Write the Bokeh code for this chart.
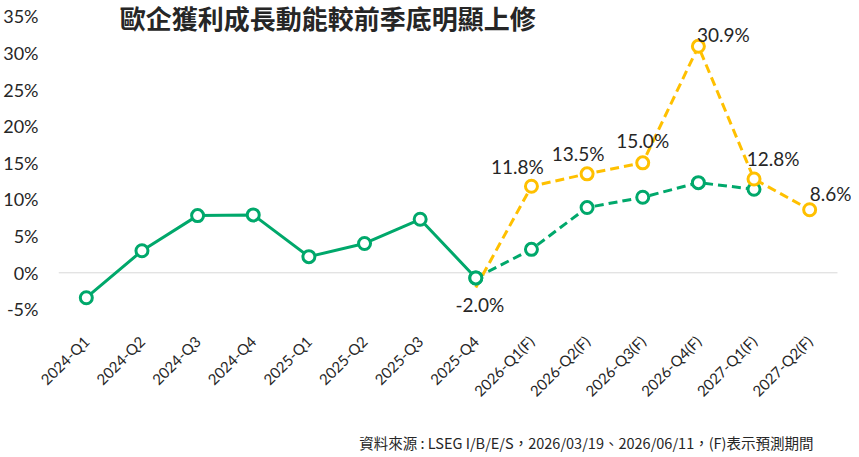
import math
from bokeh.plotting import figure
from bokeh.models import ColumnDataSource, FixedTicker, Label, LabelSet, Range1d, Title
from bokeh.core.properties import value
from bokeh.embed import file_html
from bokeh.resources import INLINE

# ---- data ----
quarters = ["2024-Q1", "2024-Q2", "2024-Q3", "2024-Q4", "2025-Q1", "2025-Q2", "2025-Q3",
            "2025-Q4", "2026-Q1(F)", "2026-Q2(F)", "2026-Q3(F)", "2026-Q4(F)", "2027-Q1(F)",
            "2027-Q2(F)"]
actual_q = quarters[0:8]
actual_v = [-3.4, 3.0, 7.8, 7.9, 2.2, 4.0, 7.3, -0.7]
prev_q = quarters[7:13]
prev_v = [-0.7, 3.2, 8.9, 10.3, 12.3, 11.4]
new_q = quarters[7:14]
new_v = [-2.0, 11.8, 13.5, 15.0, 30.9, 12.8, 8.6]
y_ticks = [-5, 0, 5, 10, 15, 20, 25, 30, 35]

title_text = "歐企獲利成長動能較前季底明顯上修"
source_text = "資料來源 : LSEG I/B/E/S，2026/03/19、2026/06/11，(F)表示預測期間"

GREEN = "#00A86B"
YELLOW = "#FFC000"
TXT = "#262626"
NUM_FONT = "Lato"
CJK_FONT = "Noto Sans CJK TC"

idx = {q: i for i, q in enumerate(quarters)}
n = len(quarters)

# frame extends slightly below -5% so the "-2.0%" label is not clipped
p = figure(frame_width=793, frame_height=317, output_backend="svg", toolbar_location=None,
           x_range=Range1d(-0.5, 13.752), y_range=Range1d(-6.1, 37.15),
           min_border_left=50, min_border_right=0, min_border_top=0, min_border_bottom=0)
p.outline_line_color = None
p.xgrid.visible = False
p.ygrid.visible = False
p.background_fill_color = "white"
p.border_fill_color = "white"

# axes
p.yaxis.ticker = FixedTicker(ticks=y_ticks)
p.yaxis.major_label_overrides = {t: f"{t}%" for t in y_ticks}
p.yaxis.axis_line_color = None
p.yaxis.major_tick_line_color = None
p.yaxis.minor_tick_line_color = None
p.yaxis.major_label_text_font = NUM_FONT
p.yaxis.major_label_text_font_size = "18px"
p.yaxis.major_label_text_color = TXT
p.yaxis.major_label_standoff = 14

p.xaxis.ticker = FixedTicker(ticks=list(range(n)))
p.xaxis.major_label_overrides = {i: q for i, q in enumerate(quarters)}
p.xaxis.major_label_orientation = math.pi / 4
p.xaxis.axis_line_color = None
p.xaxis.major_tick_line_color = None
p.xaxis.minor_tick_line_color = None
p.xaxis.major_label_text_font = NUM_FONT
p.xaxis.major_label_text_font_size = "15px"
p.xaxis.major_label_text_color = TXT
p.xaxis.major_label_standoff = 15

# zero line across the category span
p.segment(x0=[-0.5], x1=[n - 0.5], y0=[0], y1=[0], line_color="#D9D9D9", line_width=1)

# series
src_a = ColumnDataSource(dict(x=[idx[q] for q in actual_q], y=actual_v))
src_p = ColumnDataSource(dict(x=[idx[q] for q in prev_q], y=prev_v))
src_n = ColumnDataSource(dict(x=[idx[q] for q in new_q], y=new_v,
                              lbl=[f"{v:.1f}%" for v in new_v]))
src_nm = ColumnDataSource(dict(x=[idx[q] for q in new_q[1:]], y=new_v[1:]))

p.line("x", "y", source=src_p, line_color=GREEN, line_width=3, line_dash="9 5")
p.line("x", "y", source=src_a, line_color=GREEN, line_width=3)
p.line("x", "y", source=src_n, line_color=YELLOW, line_width=3, line_dash="9 5")
p.scatter("x", "y", source=src_a, size=12, fill_color="white", line_color=GREEN, line_width=3)
p.scatter("x", "y", source=src_p, size=12, fill_color="white", line_color=GREEN, line_width=3)
p.scatter("x", "y", source=src_nm, size=12, fill_color="white", line_color=YELLOW, line_width=3)

# data labels (pixel offsets are styling)
src_n.data["dx"] = [4, -14, -9, 0, 25, 19, 21]
src_n.data["dy"] = [-17, 20, 20, 22, 12, 20, 16]
p.add_layout(LabelSet(x="x", y="y", text="lbl", source=src_n, x_offset="dx", y_offset="dy",
                      text_align="center", text_baseline="middle",
                      text_font=value(NUM_FONT), text_font_size="19px", text_color=TXT))

# title inside the frame
p.add_layout(Label(x=0.6, y=35, text=title_text, text_font=CJK_FONT,
                   text_font_size="26px", text_font_style="bold", text_color=TXT,
                   text_baseline="middle", text_align="left", y_offset=-1,
                   text_line_height=1.0))

# source note below the axis
p.add_layout(Title(text=source_text, align="right", text_font=CJK_FONT,
                   text_font_size="14.5px", text_font_style="normal", text_color=TXT,
                   standoff=40, offset=38), "below")

open("out.html", "w").write(file_html(p, INLINE))
